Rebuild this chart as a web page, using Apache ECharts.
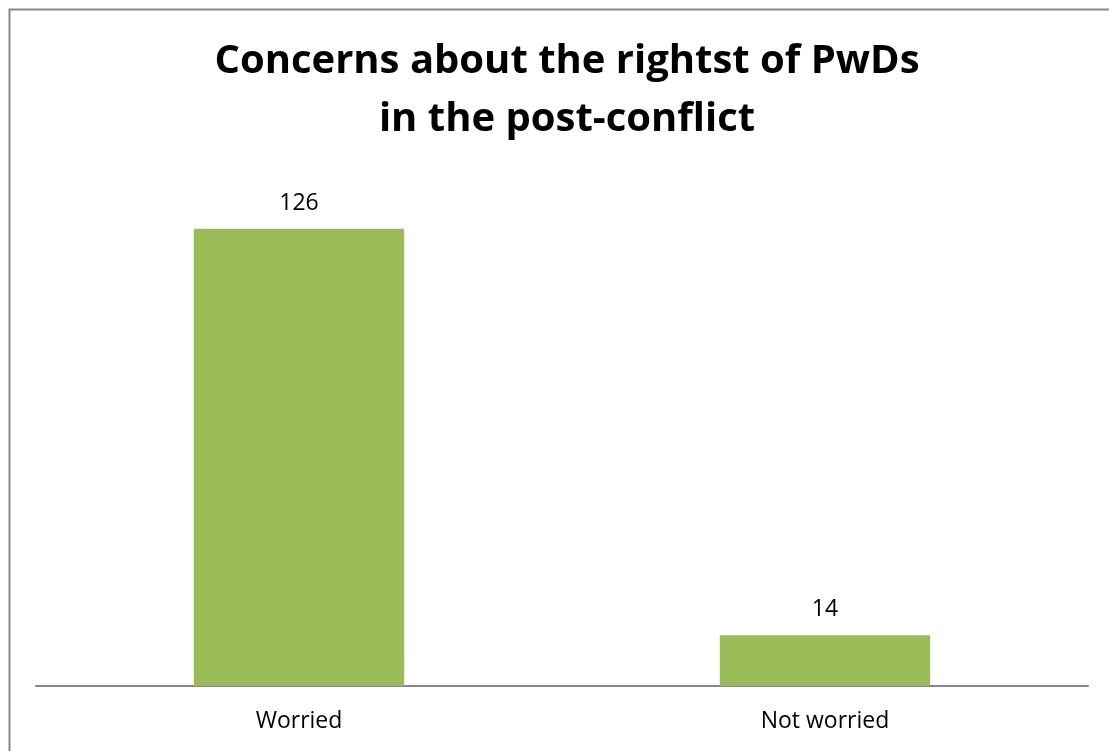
<!DOCTYPE html>
<html>
<head>
<meta charset="utf-8">
<script src="https://cdn.jsdelivr.net/npm/echarts@6/dist/echarts.min.js"></script>
<style>
  html, body { margin: 0; padding: 0; background: #ffffff; }
  #chart { width: 1109px; height: 751px; }
</style>
</head>
<body>
<div id="chart"></div>
<script>
// Survey responses
const categories = ['Worried', 'Not worried'];
const counts = [126, 14];
const titleLines = ['Concerns about the rightst of PwDs', 'in the post-conflict'];

const chart = echarts.init(document.getElementById('chart'), null, { renderer: 'canvas' });

chart.setOption({
  backgroundColor: '#ffffff',
  animation: false,
  graphic: [{
    type: 'rect',
    left: 7, top: 7,
    shape: { width: 1200, height: 900 },
    style: { fill: 'none', stroke: '#878787', lineWidth: 2 },
    silent: true
  }],
  title: {
    text: titleLines.join('\n'),
    left: 562,
    top: 28,
    textAlign: 'center',
    textStyle: {
      fontFamily: 'Open Sans',
      fontWeight: 'bold',
      fontSize: 40,
      lineHeight: 58,
      color: '#000000'
    }
  },
  grid: { left: 36, right: 21, top: 178, bottom: 65, containLabel: false },
  xAxis: {
    type: 'category',
    data: categories,
    axisLine: { show: true, lineStyle: { color: '#868686', width: 2 } },
    axisTick: { show: false },
    axisLabel: {
      fontFamily: 'Open Sans',
      fontSize: 23,
      color: '#000000',
      margin: 24
    }
  },
  yAxis: {
    type: 'value',
    min: 0,
    max: 140,
    show: false,
    splitLine: { show: false }
  },
  series: [{
    type: 'bar',
    data: counts,
    barWidth: '40%',
    itemStyle: { color: '#9BBB59' },
    label: {
      show: true,
      position: 'top',
      distance: 14,
      fontFamily: 'Open Sans',
      fontSize: 23,
      color: '#000000'
    }
  }]
});
</script>
</body>
</html>
